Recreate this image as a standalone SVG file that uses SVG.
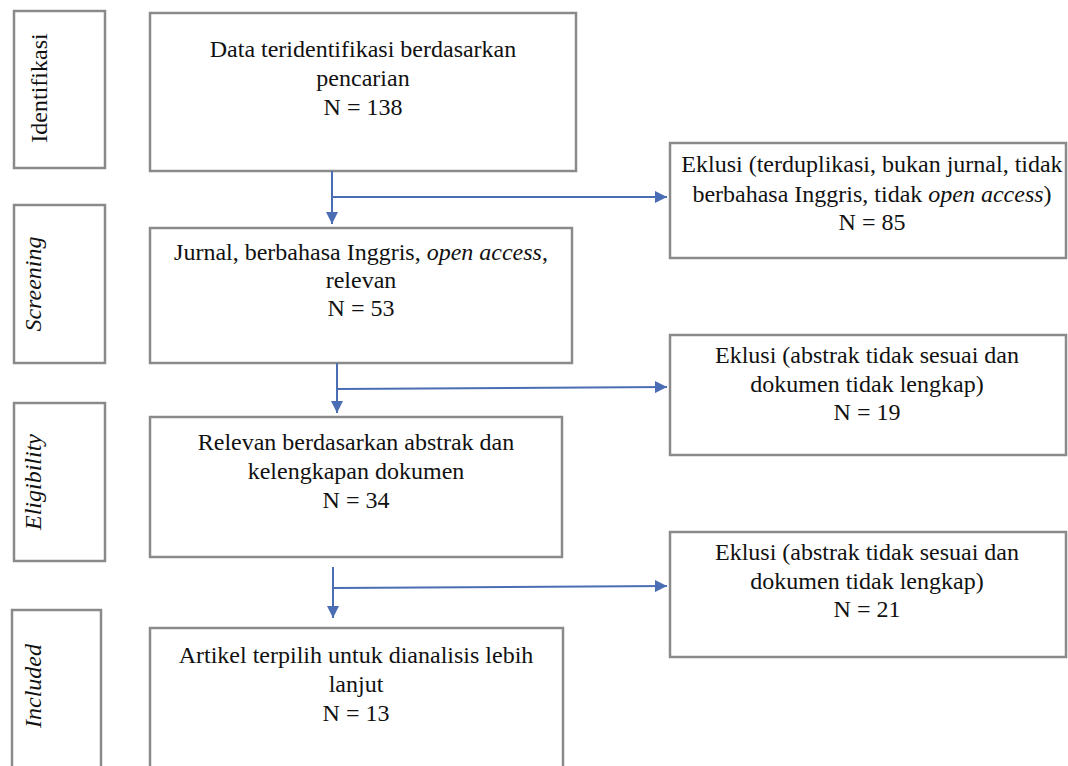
<svg xmlns="http://www.w3.org/2000/svg" width="1068" height="766" viewBox="0 0 1068 766">
<style>
.box{fill:#ffffff;stroke:#8a8a8a;stroke-width:2.5}
.t{font-family:"Liberation Serif","Times New Roman",serif;font-size:24px;fill:#111111;text-anchor:middle}
.i{font-style:italic}
.c{fill:none;stroke:#4a6db3;stroke-width:2}
</style>
<defs>
<marker id="ah" viewBox="0 0 10 10" refX="10" refY="5" markerWidth="6" markerHeight="6" markerUnits="strokeWidth" orient="auto">
<path d="M0,0 L10,5 L0,10 Z" fill="#4a6db3"/>
</marker>
</defs>
<rect width="1068" height="766" fill="#ffffff"/>

<g id="stage-identifikasi">
<rect class="box" x="14" y="11" width="91" height="157"/>
<text class="t" transform="translate(47,88) rotate(-90)">Identifikasi</text>
</g>
<g id="stage-screening">
<rect class="box" x="14" y="205" width="91" height="158"/>
<text class="t i" transform="translate(41,284) rotate(-90)">Screening</text>
</g>
<g id="stage-eligibility">
<rect class="box" x="14" y="403" width="91" height="158"/>
<text class="t i" transform="translate(41,482) rotate(-90)">Eligibility</text>
</g>
<g id="stage-included">
<rect class="box" x="12" y="610" width="89" height="170"/>
<text class="t i" transform="translate(41,686) rotate(-90)">Included</text>
</g>

<g id="node-data">
<rect class="box" x="150" y="13" width="426" height="158"/>
<text class="t" x="363" y="57">Data teridentifikasi berdasarkan</text>
<text class="t" x="363" y="86">pencarian</text>
<text class="t" x="363" y="115">N = 138</text>
</g>
<g id="node-jurnal">
<rect class="box" x="150" y="228" width="422" height="135"/>
<text class="t" x="361" y="260">Jurnal, berbahasa Inggris, <tspan class="i">open access</tspan>,</text>
<text class="t" x="361" y="288">relevan</text>
<text class="t" x="361" y="316">N = 53</text>
</g>
<g id="node-relevan">
<rect class="box" x="150" y="417" width="412" height="140"/>
<text class="t" x="356" y="450">Relevan berdasarkan abstrak dan</text>
<text class="t" x="356" y="479">kelengkapan dokumen</text>
<text class="t" x="356" y="508">N = 34</text>
</g>
<g id="node-artikel">
<rect class="box" x="150" y="628" width="413" height="150"/>
<text class="t" x="356" y="663">Artikel terpilih untuk dianalisis lebih</text>
<text class="t" x="356" y="692">lanjut</text>
<text class="t" x="356" y="721">N = 13</text>
</g>

<g id="node-eklusi1">
<rect class="box" x="670" y="143" width="396" height="115"/>
<text class="t" x="872" y="172">Eklusi (terduplikasi, bukan jurnal, tidak</text>
<text class="t" x="872" y="202">berbahasa Inggris, tidak <tspan class="i">open access</tspan>)</text>
<text class="t" x="872" y="230">N = 85</text>
</g>
<g id="node-eklusi2">
<rect class="box" x="670" y="335" width="396" height="120"/>
<text class="t" x="867" y="363">Eklusi (abstrak tidak sesuai dan</text>
<text class="t" x="867" y="392">dokumen tidak lengkap)</text>
<text class="t" x="867" y="420">N = 19</text>
</g>
<g id="node-eklusi3">
<rect class="box" x="670" y="532" width="396" height="125"/>
<text class="t" x="867" y="560">Eklusi (abstrak tidak sesuai dan</text>
<text class="t" x="867" y="589">dokumen tidak lengkap)</text>
<text class="t" x="867" y="617">N = 21</text>
</g>

<g id="connectors">
<path class="c" d="M332,171 L332,224" marker-end="url(#ah)"/>
<path class="c" d="M332,197 L667,197" marker-end="url(#ah)"/>
<path class="c" d="M337,363 L337,413" marker-end="url(#ah)"/>
<path class="c" d="M337,389 L667,387" marker-end="url(#ah)"/>
<path class="c" d="M333,567 L333,618" marker-end="url(#ah)"/>
<path class="c" d="M333,588 L667,586" marker-end="url(#ah)"/>
</g>
</svg>
